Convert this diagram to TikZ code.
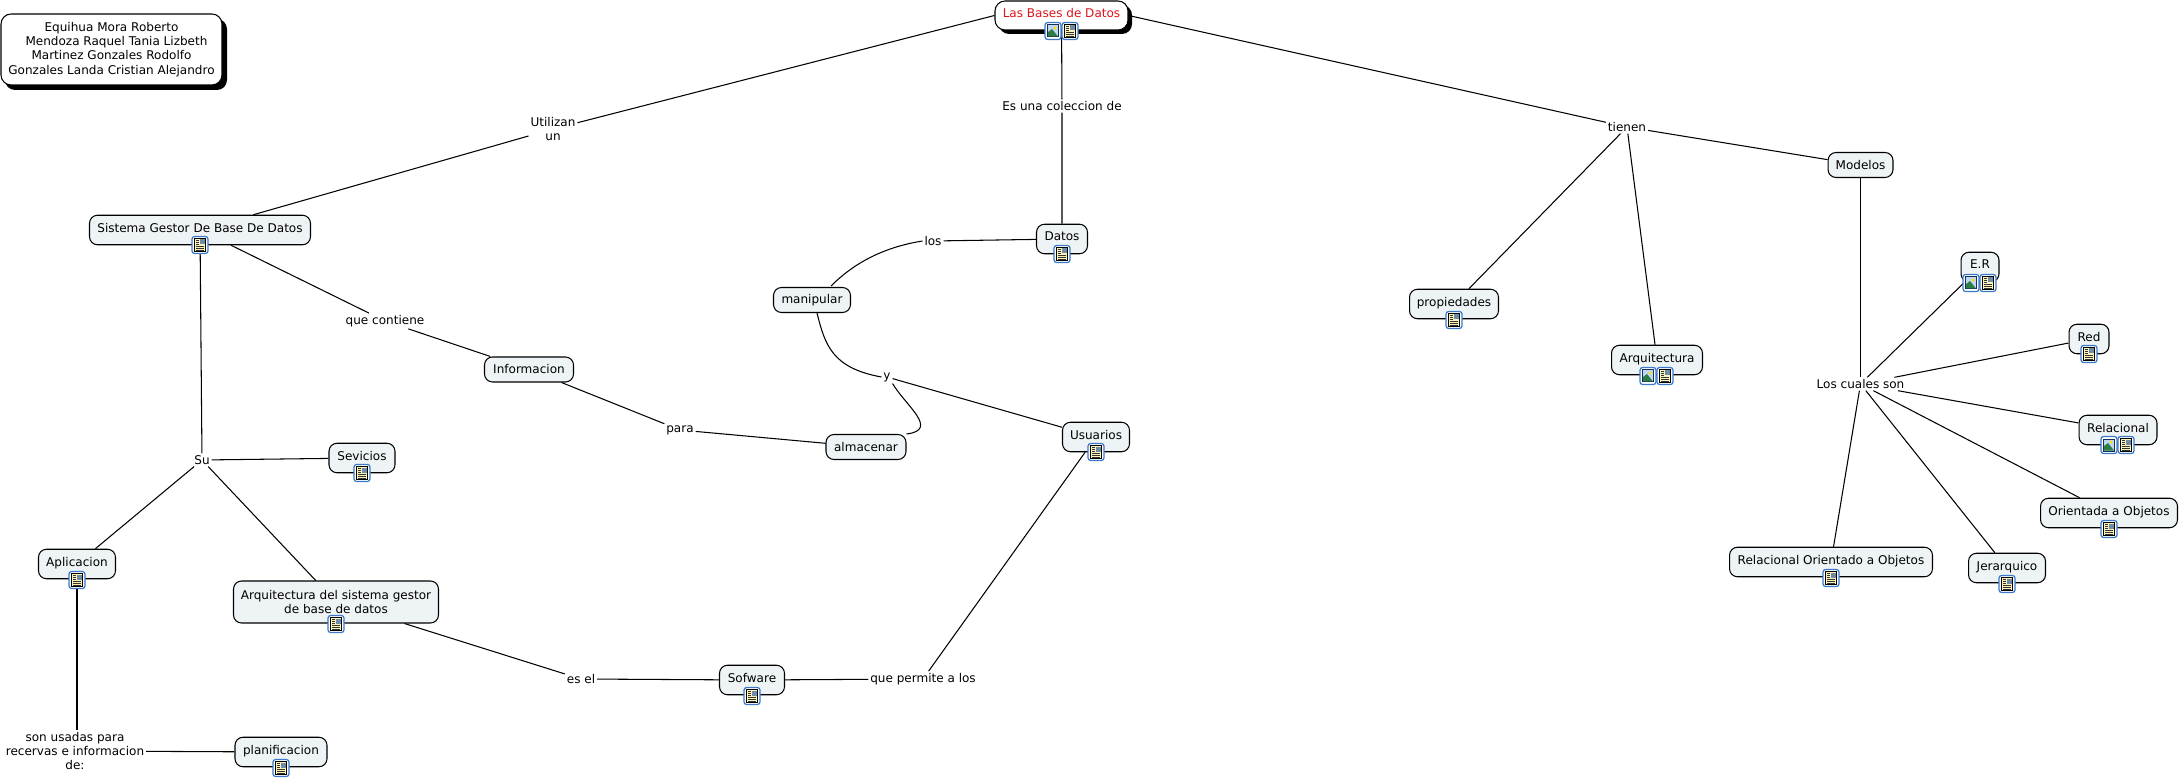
\documentclass[tikz,border=0pt]{standalone}
\usepackage{fontspec}
\setmainfont{DejaVu Sans}
\definecolor{conceptfill}{HTML}{EEF3F5}
\definecolor{mainred}{HTML}{E0141C}
\definecolor{iconblue}{HTML}{3C78C8}
\definecolor{icondark}{HTML}{14305A}
\definecolor{iconpage}{HTML}{FBF3B8}
\definecolor{iconhill}{HTML}{2E7D46}
\definecolor{iconsky}{HTML}{BFD8F0}
\definecolor{iconpicture}{HTML}{6E8CA8}
\tikzset{
  pics/imgicon/.style={code={
    \draw[iconblue, fill=white, rounded corners=1.5, line width=0.7pt] (-8,-8.5) rectangle (8,8.5);
    \fill[icondark] (-6,-6.5) rectangle (6,6.5);
    \fill[iconsky] (-5,-5.5) rectangle (5,5.5);
    \fill[iconhill] (-5,5.5) -- (-5,1) -- (-1,-2) -- (5,5.5) -- cycle;
    \fill[yellow!80!orange] (2,-3) circle (1.6);
  }},
  pics/docicon/.style={code={
    \draw[iconblue, fill=white, rounded corners=1.5, line width=0.7pt] (-8,-8.5) rectangle (8,8.5);
    \draw[black, fill=iconpage, line width=0.4pt] (-5.5,-6.5) rectangle (5.5,6.5);
    \fill[iconpicture] (0,-5.5) rectangle (4.5,-0.5);
    \draw[black!80, line width=0.3pt] (-4,-5) -- (-1,-5) (-4,-3) -- (-1,-3) (-4,-1) -- (-1,-1)
      (-4,1.2) -- (4,1.2) (-4,3.2) -- (4,3.2) (-4,5.2) -- (4,5.2);
  }}
}
\begin{document}
\begin{tikzpicture}
[x=0.02cm, y=-0.02cm, font=\fontsize{6.85}{8.1}\selectfont, line width=0.6pt]
\tikzstyle{concept}=[draw, rounded corners=0.16cm, fill=conceptfill, inner xsep=0.1cm, inner ysep=0mm, minimum height=0.5cm, align=center]
\tikzstyle{iconed}=[concept, minimum height=0.59cm, text depth=0.1cm]
\tikzstyle{shadowed}=[draw, rounded corners=0.2cm, fill=white, inner ysep=0mm, align=center]
\tikzstyle{linking}=[inner sep=0.03cm, align=center]
\useasboundingbox (0,0) rectangle (2180,780);

\fill[black, rounded corners=0.2cm] (5,19) rectangle (227,90);
\fill[black, rounded corners=0.2cm] (999,5) rectangle (1132,34);
\node[shadowed, minimum width=4.42cm, minimum height=1.42cm]	(Authors)	at (111.5,49.5)	{Equihua Mora Roberto\\\hspace*{0.2cm}Mendoza Raquel Tania Lizbeth\\Martinez Gonzales Rodolfo\\Gonzales Landa Cristian Alejandro};
\node[shadowed, minimum width=2.66cm, minimum height=0.58cm, text depth=0.1cm, text=mainred]	(Bases)	at (1061.5,15.5)	{Las Bases de Datos};

\node[iconed, minimum width=4.42cm]	(Gestor)	at (200,230)	{Sistema Gestor De Base De Datos};
\node[iconed, minimum width=1.02cm]	(Datos)	at (1062,239)	{Datos};
\node[concept, minimum width=1.54cm]	(Manipular)	at (812,300)	{manipular};
\node[concept, minimum width=1.6cm]	(Almacenar)	at (866,447)	{almacenar};
\node[concept, minimum width=1.78cm]	(Informacion)	at (529,369.5)	{Informacion};
\node[iconed, minimum width=1.34cm]	(Usuarios)	at (1096,437)	{Usuarios};
\node[iconed, minimum width=1.32cm]	(Sevicios)	at (362,458)	{Sevicios};
\node[iconed, minimum width=1.54cm]	(Aplicacion)	at (77,564)	{Aplicacion};
\node[concept, minimum width=4.1cm, minimum height=0.84cm]	(ArqSistema)	at (336,602)	{Arquitectura del sistema gestor\\de base de datos};
\node[iconed, minimum width=1.3cm]	(Sofware)	at (752,680)	{Sofware};
\node[iconed, minimum width=1.84cm]	(Planificacion)	at (281,752)	{planificacion};
\node[iconed, minimum width=1.78cm]	(Propiedades)	at (1454,304)	{propiedades};
\node[iconed, minimum width=1.82cm]	(Arquitectura)	at (1657,360)	{Arquitectura};
\node[concept, minimum width=1.3cm]	(Modelos)	at (1860.5,165)	{Modelos};
\node[iconed, minimum width=0.76cm]	(ER)	at (1980,267)	{E.R};
\node[iconed, minimum width=0.8cm]	(Red)	at (2089,339)	{Red};
\node[iconed, minimum width=1.56cm]	(Relacional)	at (2118,430)	{Relacional};
\node[iconed, minimum width=2.74cm]	(Orientada)	at (2109,513)	{Orientada a Objetos};
\node[iconed, minimum width=1.54cm]	(Jerarquico)	at (2007,568)	{Jerarquico};
\node[iconed, minimum width=4.06cm]	(RelOrientado)	at (1831,562)	{Relacional Orientado a Objetos};

\node[linking]	(Utilizan)	at (553,129)	{Utilizan\\un};
\node[linking]	(Coleccion)	at (1062,106)	{Es una coleccion de};
\node[linking]	(Tienen)	at (1627,127)	{tienen};
\node[linking]	(Los)	at (933,241)	{los};
\node[linking]	(Contiene)	at (385,321)	{que contiene};
\node[linking]	(Para)	at (680,430)	{para};
\node[linking]	(Y)	at (887,377)	{y};
\node[linking]	(Su)	at (202,460)	{Su};
\node[linking]	(Cuales)	at (1860.5,384)	{Los cuales son};
\node[linking]	(EsEl)	at (581,679)	{es el};
\node[linking]	(Permite)	at (923,679)	{que permite a los};
\node[linking]	(Usadas)	at (75,751)	{son usadas para\\recervas e informacion\\de:};

\coordinate	(ManipularIn)	at (831,286);
\coordinate	(ManipularOut)	at (817,313);

\draw (Bases.west)--(Utilizan)--(Gestor);
\draw (Bases)--(Coleccion)--(Datos);
\draw (Bases.east)--(Tienen)--(Modelos);
\draw (Tienen)--(Propiedades);
\draw (Tienen)--(Arquitectura);
\draw (Datos)--(Los);
\draw (Los.west) .. controls (885,247) and (855,262) .. (ManipularIn);
\draw (Gestor)--(Contiene)--(Informacion);
\draw (Informacion)--(Para)--(Almacenar);
\draw (ManipularOut) .. controls (825,345) and (832,368) .. (Y.west);
\draw (Y.south east) .. controls (905,405) and (940,430) .. (Almacenar.north east);
\draw (Y)--(Usuarios);
\draw (Gestor)--(Su);
\draw (Su)--(Sevicios);
\draw (Su)--(Aplicacion);
\draw (Su)--(ArqSistema);
\draw (ArqSistema)--(EsEl)--(Sofware);
\draw (Sofware)--(Permite)--(Usuarios);
\draw (Aplicacion)--(Usadas.north -| Aplicacion);
\draw (Usadas)--(Planificacion);
\draw (Modelos)--(Cuales);
\draw (Cuales)--(ER);
\draw (Cuales)--(Red);
\draw (Cuales)--(Relacional);
\draw (Cuales)--(Orientada);
\draw (Cuales)--(Jerarquico);
\draw (Cuales)--(RelOrientado);

\pic at (1053,31) {imgicon};
\pic at (1070,31) {docicon};
\pic at (200,245) {docicon};
\pic at (1062,254) {docicon};
\pic at (1096,452) {docicon};
\pic at (362,473) {docicon};
\pic at (77,580) {docicon};
\pic at (336,624) {docicon};
\pic at (752,696) {docicon};
\pic at (281,768) {docicon};
\pic at (1454,320) {docicon};
\pic at (1648,376) {imgicon};
\pic at (1665,376) {docicon};
\pic at (1971,283) {imgicon};
\pic at (1988,283) {docicon};
\pic at (2089,354) {docicon};
\pic at (2109,445) {imgicon};
\pic at (2126,445) {docicon};
\pic at (2109,529) {docicon};
\pic at (2007,584) {docicon};
\pic at (1831,578) {docicon};
\end{tikzpicture}
\end{document}
